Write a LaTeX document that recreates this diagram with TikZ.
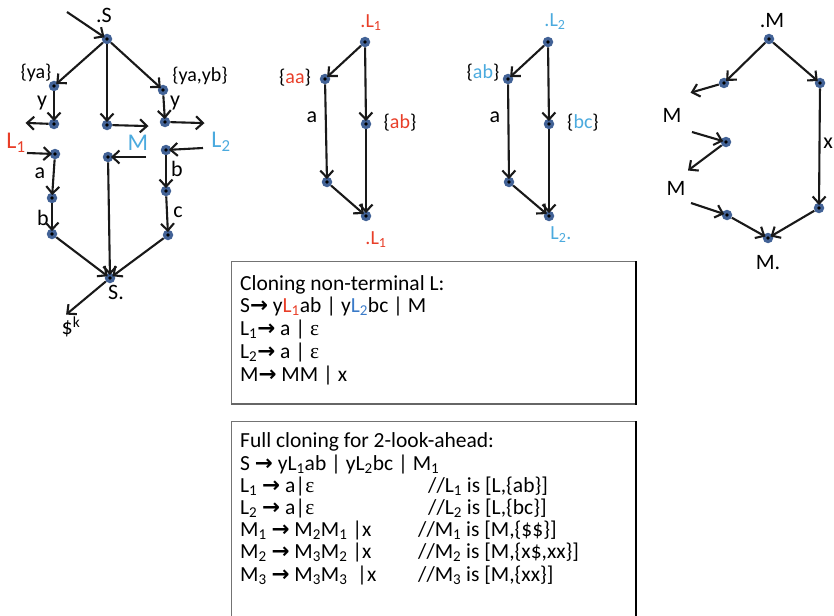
\documentclass[tikz,border=0pt]{standalone}
\usepackage{fontspec}
\setmainfont{Carlito}
\newfontfamily\epsfont{Liberation Serif}
\newfontfamily\arrfont{DejaVu Sans}
\usetikzlibrary{arrows.meta}
\definecolor{dotblue}{RGB}{66,98,150}
\definecolor{lred}{RGB}{232,62,40}
\definecolor{lblue}{RGB}{75,170,222}
\definecolor{tblue}{RGB}{58,122,200}
\newcommand{\ar}{{\arrfont\bfseries →}}
\newcommand{\eps}{{\epsfont ε}}
\begin{document}
\begin{tikzpicture}[x=1pt,y=-1pt,
  dot/.style={circle,fill=dotblue,minimum size=10.5pt,inner sep=0pt,
    path picture={\fill[black] (path picture bounding box.center) circle (1.8pt);}},
  arr/.style={draw=black!90,line width=2.1pt,-{Straight Barb[length=7pt,width=13pt]},shorten >=-2.5pt},
  lbl/.style={inner sep=0pt,font=\fontsize{22}{24}\selectfont},
  sml/.style={inner sep=0pt,font=\fontsize{20}{22}\selectfont},
  big/.style={inner sep=0pt,font=\fontsize{24}{26}\selectfont},
  txtA/.style={anchor=base west,inner sep=0pt,align=left,
    font={\fontsize{21.5}{22.75}\selectfont\lineskiplimit=-100pt}},
  txtB/.style={anchor=base west,inner sep=0pt,align=left,
    font={\fontsize{21.5}{22.17}\selectfont\lineskiplimit=-100pt}},
  boxline/.style={draw=black!55,line width=1pt}]
\useasboundingbox (0,0) rectangle (834,615);

% ---------------- left graph ----------------
\coordinate (sin) at (67,12);
\node[dot] (s0) at (107,39) {};
\node[dot] (a1) at (54,86) {};
\node[dot] (b1) at (163,90) {};
\node[dot] (c1) at (107,125) {};
\node[dot] (a2) at (54,124) {};
\node[dot] (b2) at (165,122) {};
\coordinate (a2out) at (28,123);
\coordinate (c1out) at (146,126);
\coordinate (b2out) at (202,123);
\coordinate (l1in) at (27,153);
\coordinate (min) at (146,157);
\coordinate (l2in) at (203,148);
\node[dot] (d1) at (55,154) {};
\node[dot] (e1) at (108,157) {};
\node[dot] (f1) at (166,150) {};
\node[dot] (g1) at (52,198) {};
\node[dot] (h1) at (52,234) {};
\node[dot] (i1) at (166,191) {};
\node[dot] (j1) at (168,235) {};
\node[dot] (t1) at (110,278) {};
\coordinate (tout) at (68,313);

\node[lbl] (lS) at (104,15) {.S};
\node[sml] (lya) at (36,73) {\{ya\}};
\node[sml] (lyayb) at (200,76) {\{ya,yb\}};
\node[lbl] (ly1) at (42,103) {y};
\node[lbl] (ly2) at (175,103) {y};
\node[big,text=lred] (lL1) at (16,143) {L\textsubscript{1}};
\node[big,text=lblue] (lM) at (138,143) {M};
\node[big,text=lblue] (lL2) at (221,142) {L\textsubscript{2}};
\node[lbl] (la1) at (40,173) {a};
\node[lbl] (lb1) at (43,218) {b};
\node[lbl] (lb2) at (177,169) {b};
\node[lbl] (lc2) at (178,212) {c};
\node[lbl] (lSend) at (116,292) {S.};
\node[lbl] (ldk) at (71,327) {\$\textsuperscript{k}};

\draw[arr] (sin) -- (s0);
\draw[arr] (s0) -- (a1);
\draw[arr] (s0) -- (b1);
\draw[arr] (s0) -- (c1);
\draw[arr] (a1) -- (a2);
\draw[arr] (b1) -- (b2);
\draw[arr] (a2) -- (a2out);
\draw[arr] (c1) -- (c1out);
\draw[arr] (b2) -- (b2out);
\draw[arr] (l1in) -- (d1);
\draw[arr] (min) -- (e1);
\draw[arr] (l2in) -- (f1);
\draw[arr] (d1) -- (g1);
\draw[arr] (g1) -- (h1);
\draw[arr] (f1) -- (i1);
\draw[arr] (i1) -- (j1);
\draw[arr] (h1) -- (t1);
\draw[arr] (e1) -- (t1);
\draw[arr] (j1) -- (t1);
\draw[arr] (t1) -- (tout);

% ---------------- L1 graph ----------------
\node[dot] (p0) at (365,42) {};
\node[dot] (p1) at (325,79) {};
\node[dot] (p2) at (366,124) {};
\node[dot] (p3) at (327,182) {};
\node[dot] (p4) at (366,216) {};
\node[sml,text=lred] (lpL) at (371,23) {.L\textsubscript{1}};
\node[sml] (lpaa) at (295,78) {\{\textcolor{lred}{aa}\}};
\node[sml] (lpab) at (400,123) {\{\textcolor{lred}{ab}\}};
\node[lbl] (lpa) at (312,117) {a};
\node[sml,text=lred] (lpLe) at (376,240) {.L\textsubscript{1}};
\draw[arr] (p0) -- (p1);
\draw[arr] (p0) -- (p2);
\draw[arr] (p1) -- (p3);
\draw[arr] (p2) -- (p4);
\draw[arr] (p3) -- (p4);

% ---------------- L2 graph ----------------
\node[dot] (q0) at (548,42) {};
\node[dot] (q1) at (508,79) {};
\node[dot] (q2) at (549,124) {};
\node[dot] (q3) at (509,182) {};
\node[dot] (q4) at (549,216) {};
\node[sml,text=lblue] (lqL) at (555,22) {.L\textsubscript{2}};
\node[sml] (lqab) at (483,73) {\{\textcolor{lblue}{ab}\}};
\node[sml] (lqbc) at (583,123) {\{\textcolor{lblue}{bc}\}};
\node[lbl] (lqa) at (495,117) {a};
\node[sml,text=lblue] (lqLe) at (561,235) {L\textsubscript{2}.};
\draw[arr] (q0) -- (q1);
\draw[arr] (q0) -- (q2);
\draw[arr] (q1) -- (q3);
\draw[arr] (q2) -- (q4);
\draw[arr] (q3) -- (q4);

% ---------------- M graph ----------------
\node[dot] (m0) at (769,39) {};
\node[dot] (m1) at (724,83) {};
\node[dot] (m2) at (820,83) {};
\node[dot] (m3) at (726,142) {};
\node[dot] (m4) at (727,215) {};
\node[dot] (m5) at (819,208) {};
\node[dot] (m6) at (768,238) {};
\coordinate (m1out) at (693,92);
\coordinate (m3in) at (692,132);
\coordinate (m3out) at (690,169);
\coordinate (m4in) at (691,203);
\node[lbl] (lmM) at (772,21) {.M};
\node[lbl] (lmM1) at (672,115) {M};
\node[lbl] (lmM2) at (676,188) {M};
\node[lbl] (lmx) at (828,143) {x};
\node[lbl] (lmMe) at (768,263) {M.};
\draw[arr] (m0) -- (m1);
\draw[arr] (m0) -- (m2);
\draw[arr] (m1) -- (m1out);
\draw[arr] (m3in) -- (m3);
\draw[arr] (m3) -- (m3out);
\draw[arr] (m4in) -- (m4);
\draw[arr] (m4) -- (m6);
\draw[arr] (m2) -- (m5);
\draw[arr] (m5) -- (m6);

% ---------------- box 1 ----------------
\draw[boxline] (231,404) -- (231,261) -- (636,261);
\draw[draw=black!60,line width=2pt] (231,404) -- (636,404);
\draw[draw=black,line width=1.6pt] (636,261) -- (636,405);
% anchored at the baseline of the last line
\node[txtA] (box1text) at (240,381) {Cloning non-terminal L:\\
S\ar{} y\textcolor{lred}{L\textsubscript{1}}ab | y\textcolor{tblue}{L\textsubscript{2}}bc | M\\
L\textsubscript{1}\ar{} a | \eps\\
L\textsubscript{2}\ar{} a | \eps\\
M\ar{} MM | x};

% ---------------- box 2 ----------------
\draw[boxline] (231,620) -- (231,421) -- (636,421);
\draw[draw=black,line width=1.6pt] (636,421) -- (636,620);
\node[txtB] (box2text) at (240,581) {Full cloning for 2-look-ahead:\\
S \ar{} yL\textsubscript{1}ab | yL\textsubscript{2}bc | M\textsubscript{1}\\
L\textsubscript{1} \ar{} a|\eps\\
L\textsubscript{2} \ar{} a|\eps\\
M\textsubscript{1} \ar{} M\textsubscript{2}M\textsubscript{1} |x\\
M\textsubscript{2} \ar{} M\textsubscript{3}M\textsubscript{2} |x\\
M\textsubscript{3} \ar{} M\textsubscript{3}M\textsubscript{3} \ |x};
\node[txtB] (box2notes) at (418,581) {\hspace*{10pt}//L\textsubscript{1} is [L,\{ab\}]\\
\hspace*{10pt}//L\textsubscript{2} is [L,\{bc\}]\\
//M\textsubscript{1} is [M,\{\$\$\}]\\
//M\textsubscript{2} is [M,\{x\$,xx\}]\\
//M\textsubscript{3} is [M,\{xx\}]};
\end{tikzpicture}
\end{document}
